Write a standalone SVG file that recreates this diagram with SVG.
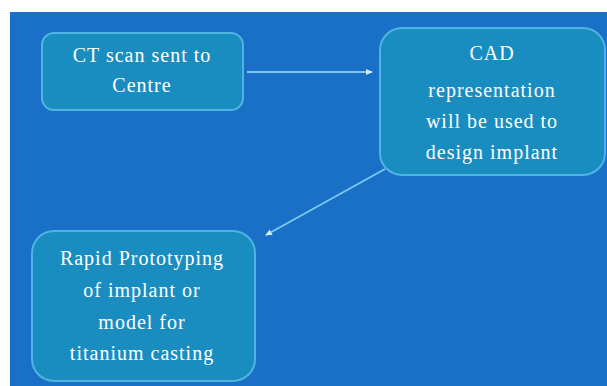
<svg xmlns="http://www.w3.org/2000/svg" width="607" height="386" viewBox="0 0 607 386">
<style>
.bg{fill:#1a6fc6}
.node rect{fill:#1a8dc0;stroke:#4fb4e2;stroke-width:2}
.node text{font-size:20px;fill:#ffffff;text-anchor:middle;letter-spacing:1px}
.conn line{stroke:#7cc8ee;stroke-width:2}
</style>
<defs>
<marker id="ah" markerWidth="8" markerHeight="8" refX="6" refY="4" orient="auto" markerUnits="userSpaceOnUse">
<path d="M0,1 L7,4 L0,7 Z" fill="#cfeeff"/>
</marker>
</defs>
<rect x="0" y="0" width="607" height="386" fill="#ffffff"/>
<rect class="bg" x="10" y="12" width="597" height="374"/>
<g class="conn">
<line x1="247" y1="72" x2="372" y2="72" marker-end="url(#ah)"/>
<line x1="385" y1="169" x2="266" y2="235" marker-end="url(#ah)"/>
</g>
<g font-family="Liberation Serif, serif">
<g id="n1" class="node">
<rect x="42" y="33" width="201" height="77" rx="12"/>
<text x="142" y="62">CT scan sent to</text>
<text x="142" y="92">Centre</text>
</g>
<g id="n2" class="node">
<rect x="380" y="28" width="225" height="147" rx="22"/>
<text x="492" y="60">CAD</text>
<text x="492" y="97">representation</text>
<text x="492" y="128">will be used to</text>
<text x="492" y="159">design implant</text>
</g>
<g id="n3" class="node">
<rect x="32" y="231" width="223" height="150" rx="22"/>
<text x="142" y="265">Rapid Prototyping</text>
<text x="142" y="297">of implant or</text>
<text x="142" y="329">model for</text>
<text x="142" y="360">titanium casting</text>
</g>
</g>
</svg>
